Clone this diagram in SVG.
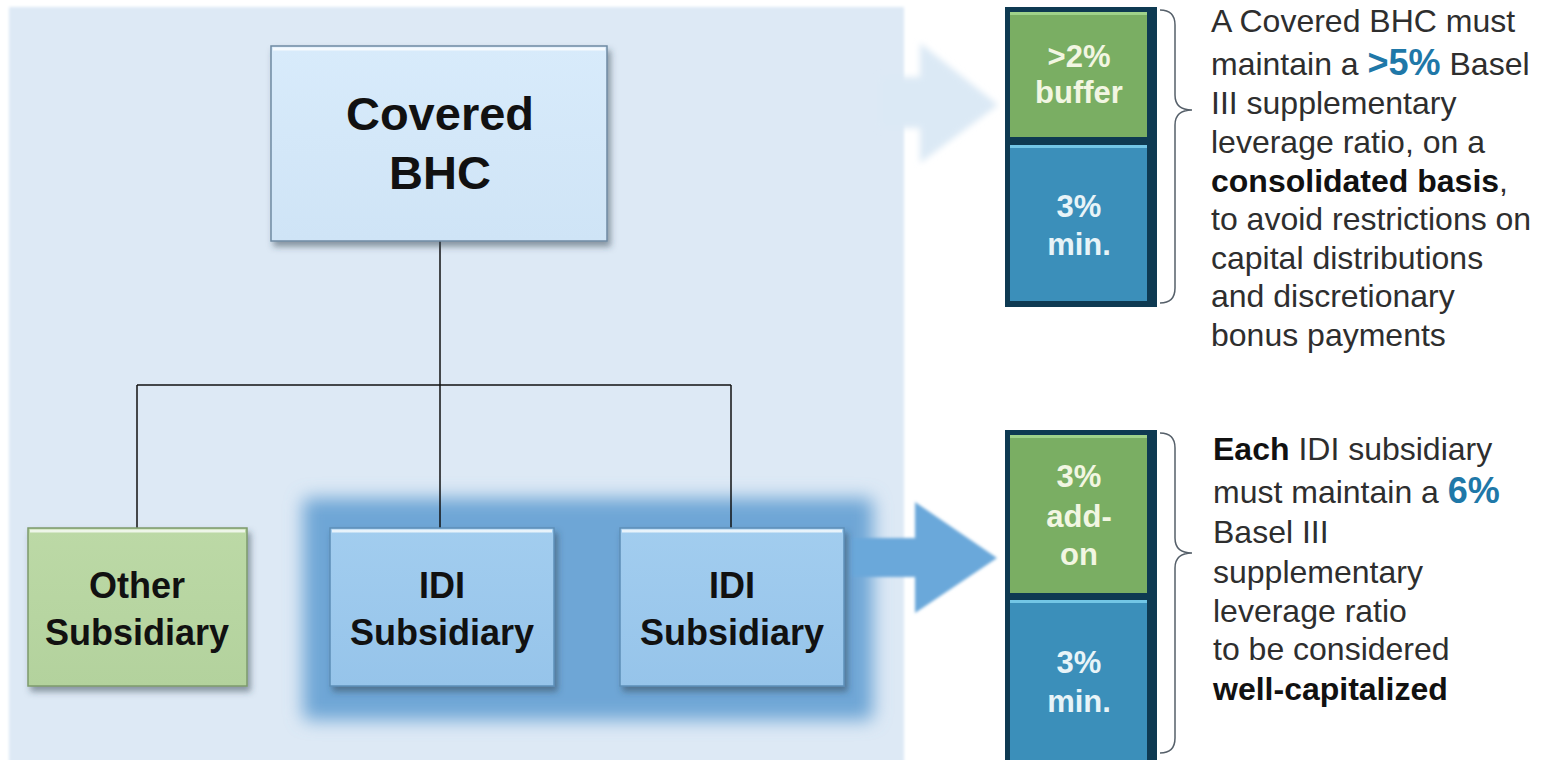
<svg xmlns="http://www.w3.org/2000/svg" width="1545" height="760" viewBox="0 0 1545 760">
<defs>
  <filter id="shadow" x="-10%" y="-10%" width="130%" height="130%">
    <feDropShadow dx="3" dy="5" stdDeviation="3" flood-color="#2f3f50" flood-opacity="0.5"/>
  </filter>
  <filter id="glow" x="-20%" y="-20%" width="140%" height="140%"><feGaussianBlur stdDeviation="9"/></filter>
  <filter id="soft" x="-10%" y="-10%" width="120%" height="120%"><feGaussianBlur stdDeviation="1.5"/></filter>
  <filter id="soft3" x="-10%" y="-10%" width="120%" height="120%"><feGaussianBlur stdDeviation="3"/></filter>
  <linearGradient id="gBHC" x1="0" y1="0" x2="0" y2="1">
    <stop offset="0" stop-color="#d8ebfb"/><stop offset="1" stop-color="#cfe4f6"/>
  </linearGradient>
  <linearGradient id="gOther" x1="0" y1="0" x2="0" y2="1">
    <stop offset="0" stop-color="#bcd9a6"/><stop offset="1" stop-color="#b3d29d"/>
  </linearGradient>
  <linearGradient id="gIDI" x1="0" y1="0" x2="0" y2="1">
    <stop offset="0" stop-color="#a2cdef"/><stop offset="1" stop-color="#96c4ea"/>
  </linearGradient>
</defs>
<style>
  .node-text{font-family:"Liberation Sans",Arial,sans-serif;font-weight:bold;fill:#111;text-anchor:middle}
  .conn{stroke:#111;stroke-width:1.5;fill:none}
  .bar-text{font-family:"Liberation Sans",Arial,sans-serif;font-weight:bold;text-anchor:middle;font-size:31px}
  .desc{font-family:"Liberation Sans",Arial,sans-serif;font-size:32px;fill:#2e2e2e}
  .b{font-weight:bold;fill:#111}
  .pct{font-weight:bold;font-size:36px;fill:#1f78a8}
  .brace{fill:none;stroke:#56606a;stroke-width:1.5}
  .hl{stroke:#ffffff;stroke-width:3;stroke-opacity:0.75}
</style>

<rect width="1545" height="760" fill="#ffffff"/>

<!-- background panel -->
<rect x="9" y="7" width="895" height="760" fill="#dde9f5" filter="url(#soft)"/>

<!-- faint arrow to BHC bar -->
<polygon points="880,77 920,77 920,43 998,105 920,163 920,128 880,128" fill="#dbe9f5" filter="url(#soft3)"/>

<!-- IDI glow and arrow -->
<rect x="303" y="498" width="570" height="222" rx="6" fill="#6ea6d6" filter="url(#glow)"/>
<polygon points="850,538 915,538 915,502 997,558 915,613 915,577 850,577" fill="#6aa8da" filter="url(#soft)"/>

<g id="connectors">
  <path class="conn" d="M440 241 V528"/>
  <path class="conn" d="M137 385 H731"/>
  <path class="conn" d="M137 385 V528"/>
  <path class="conn" d="M731 385 V528"/>
</g>

<g id="node-bhc">
  <rect x="271" y="46" width="336" height="195" fill="url(#gBHC)" stroke="#6f8aa3" stroke-width="1.5" filter="url(#shadow)"/>
  <line class="hl" x1="273" y1="49" x2="605" y2="49"/>
  <text class="node-text" x="440" y="130" font-size="47">Covered</text>
  <text class="node-text" x="440" y="189" font-size="47">BHC</text>
</g>

<g id="node-other">
  <rect x="28" y="528" width="219" height="158" fill="url(#gOther)" stroke="#7d9a6c" stroke-width="1.5" filter="url(#shadow)"/>
  <line class="hl" x1="30" y1="531" x2="245" y2="531"/>
  <text class="node-text" x="137" y="598" font-size="36">Other</text>
  <text class="node-text" x="137" y="645" font-size="36">Subsidiary</text>
</g>

<g id="node-idi1">
  <rect x="330" y="528" width="224" height="158" fill="url(#gIDI)" stroke="#5d8fb8" stroke-width="1.5" filter="url(#shadow)"/>
  <line class="hl" x1="332" y1="531" x2="552" y2="531"/>
  <text class="node-text" x="442" y="598" font-size="36">IDI</text>
  <text class="node-text" x="442" y="645" font-size="36">Subsidiary</text>
</g>

<g id="node-idi2">
  <rect x="620" y="528" width="224" height="158" fill="url(#gIDI)" stroke="#5d8fb8" stroke-width="1.5" filter="url(#shadow)"/>
  <line class="hl" x1="622" y1="531" x2="842" y2="531"/>
  <text class="node-text" x="732" y="598" font-size="36">IDI</text>
  <text class="node-text" x="732" y="645" font-size="36">Subsidiary</text>
</g>

<g id="bar-bhc">
  <rect x="1005" y="7" width="152" height="300" fill="#0e3a52"/>
  <rect x="1010" y="12" width="137" height="125" fill="#7aae63"/>
  <line x1="1010" y1="13.5" x2="1147" y2="13.5" stroke="#9fd28a" stroke-width="3"/>
  <rect x="1010" y="145" width="137" height="156" fill="#3b8fba"/>
  <line x1="1010" y1="146.5" x2="1147" y2="146.5" stroke="#72c6e6" stroke-width="3"/>
  <text class="bar-text" x="1079" y="67" fill="#f2f6e2">&gt;2%</text>
  <text class="bar-text" x="1079" y="103" fill="#f2f6e2">buffer</text>
  <text class="bar-text" x="1079" y="217" fill="#e8f4f8">3%</text>
  <text class="bar-text" x="1079" y="255" fill="#e8f4f8">min.</text>
  <path class="brace" d="M1160 10 Q1175 10 1175 25 V95 Q1175 110 1192 110 Q1175 110 1175 125 V288 Q1175 303 1160 303"/>
</g>

<g id="bar-idi">
  <rect x="1005" y="430" width="152" height="340" fill="#0e3a52"/>
  <rect x="1010" y="435" width="137" height="158" fill="#7aae63"/>
  <line x1="1010" y1="436.5" x2="1147" y2="436.5" stroke="#9fd28a" stroke-width="3"/>
  <rect x="1010" y="600" width="137" height="170" fill="#3b8fba"/>
  <line x1="1010" y1="601.5" x2="1147" y2="601.5" stroke="#72c6e6" stroke-width="3"/>
  <text class="bar-text" x="1079" y="487" fill="#f2f6e2">3%</text>
  <text class="bar-text" x="1079" y="527" fill="#f2f6e2">add-</text>
  <text class="bar-text" x="1079" y="565" fill="#f2f6e2">on</text>
  <text class="bar-text" x="1079" y="673" fill="#e8f4f8">3%</text>
  <text class="bar-text" x="1079" y="712" fill="#e8f4f8">min.</text>
  <path class="brace" d="M1160 433 Q1175 433 1175 448 V538 Q1175 553 1192 553 Q1175 553 1175 568 V738 Q1175 753 1160 753"/>
</g>

<g id="text-bhc" class="desc">
  <text x="1211" y="32">A Covered BHC must</text>
  <text x="1211" y="75">maintain a <tspan class="pct">&gt;5%</tspan> Basel</text>
  <text x="1211" y="114">III supplementary</text>
  <text x="1211" y="153">leverage ratio, on a</text>
  <text x="1211" y="192"><tspan class="b">consolidated basis</tspan>,</text>
  <text x="1211" y="230">to avoid restrictions on</text>
  <text x="1211" y="269">capital distributions</text>
  <text x="1211" y="307">and discretionary</text>
  <text x="1211" y="346">bonus payments</text>
</g>

<g id="text-idi" class="desc">
  <text x="1213" y="460"><tspan class="b">Each</tspan> IDI subsidiary</text>
  <text x="1213" y="503">must maintain a <tspan class="pct">6%</tspan></text>
  <text x="1213" y="543">Basel III</text>
  <text x="1213" y="583">supplementary</text>
  <text x="1213" y="622">leverage ratio</text>
  <text x="1213" y="660">to be considered</text>
  <text x="1213" y="700"><tspan class="b">well-capitalized</tspan></text>
</g>
</svg>
